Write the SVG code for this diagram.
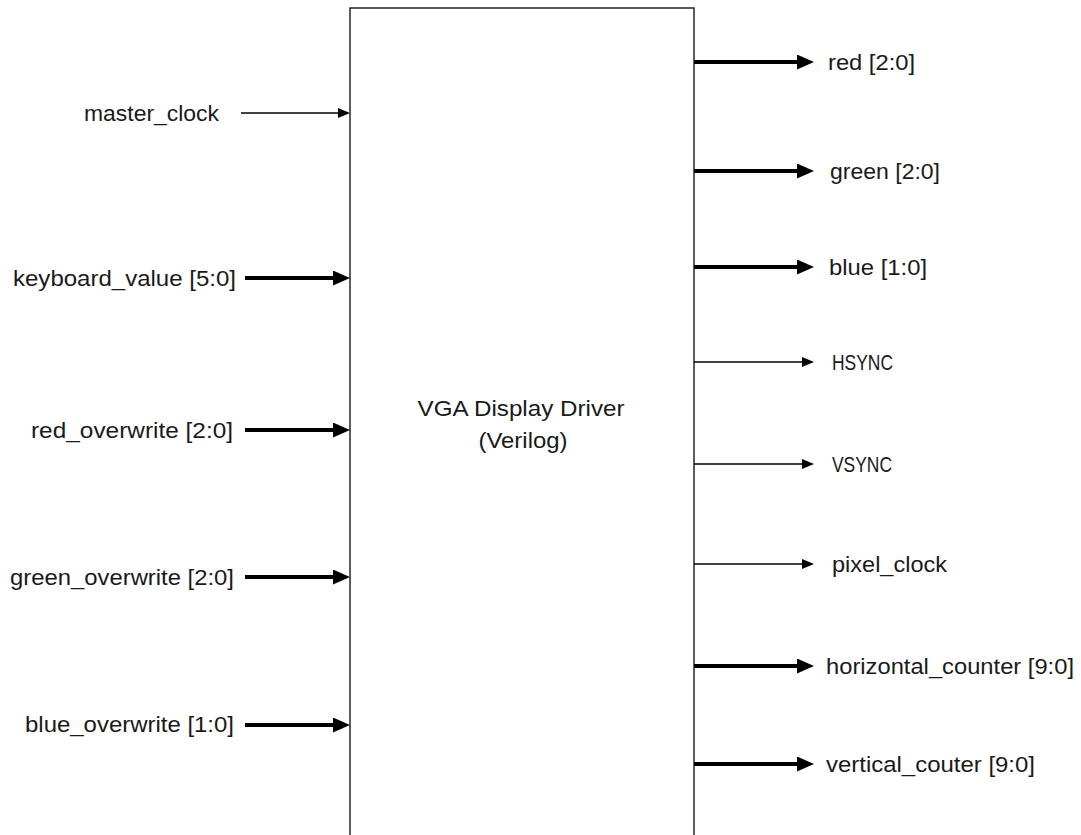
<svg xmlns="http://www.w3.org/2000/svg" width="1081" height="835" viewBox="0 0 1081 835">
<style>
text{font-family:"Liberation Sans",Arial,sans-serif;font-size:22px;fill:#1a1a1a}
.thick{stroke:#000;stroke-width:4;fill:none}
.thin{stroke:#000;stroke-width:1.3;fill:none}
</style>
<defs>
<marker id="ah" markerUnits="userSpaceOnUse" markerWidth="18" markerHeight="17" refX="0" refY="7.5" orient="auto">
<path d="M0,0 L17,7.5 L0,15 Z" fill="#000"/>
</marker>
<marker id="ahs" markerUnits="userSpaceOnUse" markerWidth="13" markerHeight="11" refX="0" refY="5" orient="auto">
<path d="M0,0 L12,5 L0,10 Z" fill="#000"/>
</marker>
</defs>
<rect width="1081" height="835" fill="#fff"/>
<g id="driver">
<rect x="350" y="8" width="344" height="840" fill="#fff" stroke="#262626" stroke-width="1.5"/>
<text x="521" y="416" text-anchor="middle" textLength="207" lengthAdjust="spacingAndGlyphs">VGA Display Driver</text>
<text x="523" y="448" text-anchor="middle" textLength="89" lengthAdjust="spacingAndGlyphs">(Verilog)</text>
</g>
<g id="connectors">
<line class="thin" x1="241" y1="113" x2="338" y2="113" marker-end="url(#ahs)"/>
<line class="thick" x1="245" y1="278" x2="333" y2="278" marker-end="url(#ah)"/>
<line class="thick" x1="245" y1="430" x2="333" y2="430" marker-end="url(#ah)"/>
<line class="thick" x1="245" y1="577" x2="333" y2="577" marker-end="url(#ah)"/>
<line class="thick" x1="245" y1="725" x2="333" y2="725" marker-end="url(#ah)"/>
<line class="thick" x1="694" y1="62" x2="797" y2="62" marker-end="url(#ah)"/>
<line class="thick" x1="694" y1="171" x2="797" y2="171" marker-end="url(#ah)"/>
<line class="thick" x1="694" y1="267" x2="797" y2="267" marker-end="url(#ah)"/>
<line class="thin" x1="694" y1="362" x2="802" y2="362" marker-end="url(#ahs)"/>
<line class="thin" x1="694" y1="464" x2="802" y2="464" marker-end="url(#ahs)"/>
<line class="thin" x1="694" y1="564" x2="802" y2="564" marker-end="url(#ahs)"/>
<line class="thick" x1="694" y1="666" x2="797" y2="666" marker-end="url(#ah)"/>
<line class="thick" x1="694" y1="764" x2="797" y2="764" marker-end="url(#ah)"/>
</g>
<g id="in-master_clock"><text x="84" y="121" textLength="135" lengthAdjust="spacingAndGlyphs">master_clock</text></g>
<g id="in-keyboard_value"><text x="13" y="286" textLength="223" lengthAdjust="spacingAndGlyphs">keyboard_value [5:0]</text></g>
<g id="in-red_overwrite"><text x="31" y="438" textLength="202" lengthAdjust="spacingAndGlyphs">red_overwrite [2:0]</text></g>
<g id="in-green_overwrite"><text x="10" y="585" textLength="224" lengthAdjust="spacingAndGlyphs">green_overwrite [2:0]</text></g>
<g id="in-blue_overwrite"><text x="25" y="732" textLength="209" lengthAdjust="spacingAndGlyphs">blue_overwrite [1:0]</text></g>
<g id="out-red"><text x="828" y="70" textLength="87" lengthAdjust="spacingAndGlyphs">red [2:0]</text></g>
<g id="out-green"><text x="830" y="179" textLength="110" lengthAdjust="spacingAndGlyphs">green [2:0]</text></g>
<g id="out-blue"><text x="829" y="275" textLength="98" lengthAdjust="spacingAndGlyphs">blue [1:0]</text></g>
<g id="out-hsync"><text x="832" y="370" textLength="61" lengthAdjust="spacingAndGlyphs">HSYNC</text></g>
<g id="out-vsync"><text x="832" y="472" textLength="60" lengthAdjust="spacingAndGlyphs">VSYNC</text></g>
<g id="out-pixel_clock"><text x="832" y="572" textLength="115" lengthAdjust="spacingAndGlyphs">pixel_clock</text></g>
<g id="out-horizontal_counter"><text x="826" y="674" textLength="248" lengthAdjust="spacingAndGlyphs">horizontal_counter [9:0]</text></g>
<g id="out-vertical_couter"><text x="826" y="772" textLength="209" lengthAdjust="spacingAndGlyphs">vertical_couter [9:0]</text></g>
</svg>
